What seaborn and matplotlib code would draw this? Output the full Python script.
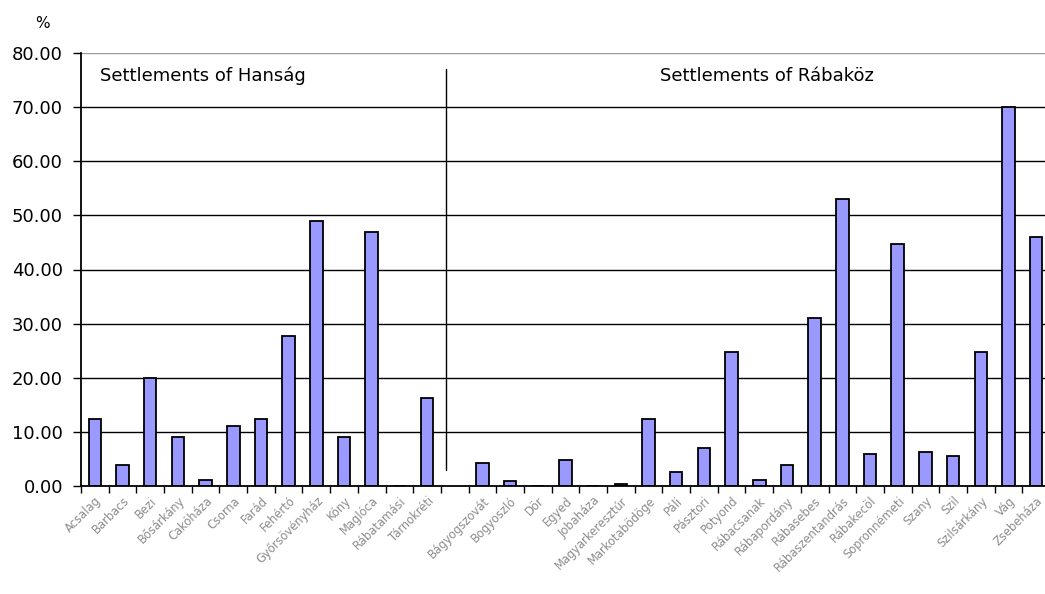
import numpy as np
import pandas as pd
import seaborn as sns
import matplotlib
matplotlib.use('Agg')
import matplotlib.pyplot as plt
import matplotlib.ticker as ticker

##### Data

hansag = ['Acsalag', 'Barbacs', 'Bezi', 'Bősárkány', 'Cakóháza', 'Csorna',
          'Farád', 'Fehértó', 'Győrsövényház', 'Kóny', 'Maglóca',
          'Rábatamási', 'Tárnokréti']
hansag_vals = [12.3, 3.8, 20.0, 9.0, 1.2, 11.1, 12.3, 27.7, 49.0, 9.0, 47.0,
               0.0, 16.3]

rabakoz = ['Bágyogszovát', 'Bogyoszló', 'Dör', 'Egyed', 'Jobaháza',
           'Magyarkeresztúr', 'Markotabödöge', 'Páli', 'Pásztori', 'Potyond',
           'Rábacsanak', 'Rábapordány', 'Rábasebes', 'Rábaszentandrás',
           'Rábakecöl', 'Sopronnémeti', 'Szany', 'Szil', 'Szilsárkány', 'Vág',
           'Zsebeháza']
rabakoz_vals = [4.2, 0.9, 0.0, 4.8, 0.0, 0.4, 12.3, 2.6, 7.0, 24.8, 1.1, 3.8,
                31.0, 53.0, 6.0, 44.8, 6.3, 5.6, 24.8, 70.0, 46.0]

yticks = [0, 10, 20, 30, 40, 50, 60, 70, 80]

# blank slot between the two groups
names = hansag + [' '] + rabakoz
values = hansag_vals + [np.nan] + rabakoz_vals
df = pd.DataFrame({'Settlement': names, 'Value': values})

##### Plot

sns.set_style('white')
plt.rcParams['font.family'] = ['DejaVu Sans']
plt.rcParams['text.color'] = 'black'
plt.rcParams['ytick.labelcolor'] = 'black'

fig = plt.figure(figsize=(10.45, 5.94), dpi=100)
ax = fig.add_axes([81 / 1045, 108 / 594, 969 / 1045, 433 / 594])

for y in yticks[1:-1]:
    ax.axhline(y, color='black', lw=1, zorder=0)
ax.axhline(80, color='#999999', lw=1, zorder=0)

sns.barplot(x='Settlement', y='Value', data=df, order=names,
            color='#9999FF', edgecolor='black', linewidth=1.3,
            width=0.45, saturation=1, ax=ax, zorder=2)

# separator between Hanság and Rábaköz
ax.plot([12.68, 12.68], [3, 77], color='black', lw=1, zorder=3)

ax.text(0.2, 75.8, 'Settlements of Hanság', fontsize=13, va='center',
        color='black')
ax.text(20.4, 75.8, 'Settlements of Rábaköz', fontsize=13, va='center',
        color='black')

ax.set_xlim(-0.5, 34.5)
ax.set_ylim(0, 80)
ax.set_yticks(yticks)
ax.yaxis.set_major_formatter(ticker.FormatStrFormatter('%.2f'))
ax.tick_params(axis='y', labelsize=13, length=6, width=1, color='black',
               labelcolor='black', direction='out', left=True, pad=7)

ax.set_xticks(range(len(names)))
ax.set_xticklabels(names, rotation=45, ha='right', rotation_mode='anchor',
                   fontsize=8.3, color='#8c8c8c')
ax.tick_params(axis='x', length=0, pad=6)
ax.set_xticks(np.arange(-0.5, len(names), 1), minor=True)
ax.tick_params(axis='x', which='minor', length=5, width=1, color='black',
               bottom=True, direction='out')

ax.set_xlabel('')
ax.set_ylabel('')
for s in ['top', 'right']:
    ax.spines[s].set_visible(False)
for s in ['left', 'bottom']:
    ax.spines[s].set_color('black')
    ax.spines[s].set_linewidth(1.3)

fig.text(35 / 1045, 1 - 23 / 594, '%', fontsize=11, va='center')

plt.savefig('out.png', dpi=100)
